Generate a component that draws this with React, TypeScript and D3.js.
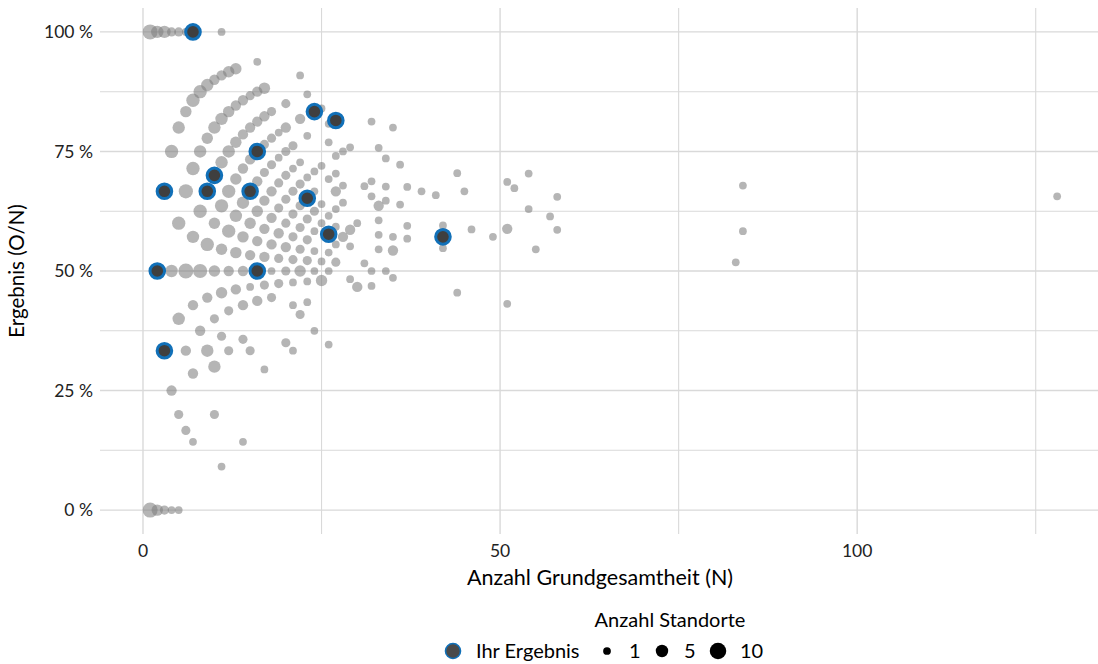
import React, { useEffect } from "react";
import * as d3 from "d3";

// x axis ticks (N) and y axis ticks (O/N)
const xTicks = [0, 50, 100];
const xMinorTicks = [25, 75, 125];
const yTicks = [0, 0.25, 0.5, 0.75, 1];
const yTickLabels = ["0 %", "25 %", "50 %", "75 %", "100 %"];
const yMinorTicks = [0.125, 0.375, 0.625, 0.875];
const legendSizes = [1, 5, 10];

// Standorte: [N (Grundgesamtheit), O (Ereignisse), Anzahl Standorte]
const sites: [number, number, number][] = [
  [1, 0, 8], [1, 1, 8],
  [2, 0, 4], [2, 1, 8], [2, 2, 5],
  [3, 0, 2], [3, 1, 3], [3, 2, 5], [3, 3, 5],
  [4, 0, 1], [4, 1, 3], [4, 2, 5], [4, 3, 6], [4, 4, 2],
  [5, 0, 1], [5, 1, 2], [5, 2, 5], [5, 3, 6], [5, 4, 5], [5, 5, 2],
  [6, 1, 2], [6, 2, 3], [6, 3, 8], [6, 4, 7], [6, 5, 4], [6, 6, 1],
  [7, 1, 1], [7, 2, 3], [7, 3, 3], [7, 4, 5], [7, 5, 6], [7, 6, 6], [7, 7, 2],
  [8, 3, 3], [8, 4, 7], [8, 5, 6], [8, 6, 5], [8, 7, 6],
  [9, 3, 5], [9, 4, 3], [9, 5, 6], [9, 6, 5], [9, 7, 4], [9, 8, 5],
  [10, 2, 2], [10, 3, 5], [10, 4, 2], [10, 5, 4], [10, 6, 4], [10, 7, 3], [10, 8, 5], [10, 9, 3],
  [11, 1, 1], [11, 4, 2], [11, 5, 4], [11, 6, 4], [11, 7, 6], [11, 8, 5], [11, 9, 5], [11, 10, 3], [11, 11, 1],
  [12, 4, 2], [12, 5, 2], [12, 6, 3], [12, 7, 6], [12, 8, 6], [12, 9, 5], [12, 10, 4], [12, 11, 4],
  [13, 6, 3], [13, 7, 4], [13, 8, 5], [13, 9, 4], [13, 10, 4], [13, 11, 3], [13, 12, 4],
  [14, 2, 1], [14, 5, 2], [14, 6, 3], [14, 7, 3], [14, 8, 4], [14, 9, 5], [14, 10, 3], [14, 11, 3], [14, 12, 3],
  [15, 5, 2], [15, 7, 1], [15, 8, 3], [15, 9, 4], [15, 10, 4], [15, 11, 3], [15, 12, 3], [15, 13, 2],
  [16, 7, 3], [16, 8, 3], [16, 9, 3], [16, 10, 4], [16, 11, 3], [16, 12, 3], [16, 13, 3], [16, 14, 3], [16, 15, 1],
  [17, 5, 1], [17, 8, 2], [17, 9, 3], [17, 10, 3], [17, 11, 3], [17, 12, 2], [17, 13, 2], [17, 14, 3], [17, 15, 4],
  [18, 8, 2], [18, 9, 1], [18, 10, 3], [18, 11, 3], [18, 12, 3], [18, 13, 2], [18, 14, 2], [18, 15, 2],
  [19, 9, 2], [19, 10, 2], [19, 11, 3], [19, 12, 2], [19, 13, 2], [19, 14, 1], [19, 15, 1],
  [20, 7, 2], [20, 10, 2], [20, 11, 3], [20, 12, 2], [20, 13, 2], [20, 14, 2], [20, 15, 2], [20, 16, 3], [20, 17, 2],
  [21, 7, 1], [21, 9, 1], [21, 10, 1], [21, 11, 2], [21, 12, 2], [21, 13, 2], [21, 14, 2], [21, 15, 1], [21, 16, 2],
  [22, 9, 2], [22, 11, 4], [22, 12, 2], [22, 13, 2], [22, 14, 2], [22, 15, 2], [22, 16, 1], [22, 18, 3], [22, 20, 1],
  [23, 10, 1], [23, 11, 1], [23, 12, 2], [23, 13, 2], [23, 14, 2], [23, 15, 2], [23, 16, 1], [23, 18, 1], [23, 20, 1],
  [24, 9, 1], [24, 12, 1], [24, 13, 1], [24, 14, 1], [24, 15, 2], [24, 16, 1], [24, 17, 1], [24, 20, 1],
  [25, 12, 4], [25, 13, 1], [25, 15, 1], [25, 16, 1], [25, 18, 1], [25, 21, 1],
  [26, 9, 1], [26, 13, 1], [26, 14, 1], [26, 15, 1], [26, 16, 1], [26, 18, 1], [26, 20, 1], [26, 21, 1],
  [27, 14, 2], [27, 15, 1], [27, 16, 1], [27, 17, 1], [27, 18, 3], [27, 19, 1], [27, 20, 1], [27, 22, 1],
  [28, 16, 3], [28, 18, 1], [28, 19, 1], [28, 21, 1],
  [29, 14, 1], [29, 16, 1], [29, 17, 3], [29, 22, 1],
  [30, 14, 3], [30, 18, 1],
  [31, 16, 1], [31, 21, 1],
  [32, 15, 1], [32, 16, 1], [32, 21, 1], [32, 22, 1], [32, 26, 1],
  [33, 18, 1], [33, 19, 1], [33, 20, 1], [33, 21, 3], [33, 25, 1],
  [34, 17, 1], [34, 22, 1], [34, 23, 1], [34, 25, 1],
  [35, 17, 1], [35, 19, 3], [35, 20, 1], [35, 28, 1],
  [36, 23, 1], [36, 26, 1],
  [37, 21, 1], [37, 22, 1], [37, 25, 1],
  [39, 26, 1], [41, 27, 1],
  [42, 23, 1], [42, 24, 1], [42, 25, 1],
  [44, 20, 1], [44, 31, 1], [45, 30, 1], [46, 27, 1], [49, 28, 1],
  [51, 22, 1], [51, 30, 3], [51, 35, 1], [52, 35, 1],
  [54, 34, 1], [54, 38, 1], [55, 30, 1], [57, 35, 1],
  [58, 34, 1], [58, 38, 1],
  [83, 43, 1], [84, 49, 1], [84, 57, 1],
  [128, 84, 1],
];

// Ihr Ergebnis: [N, O]
const ownResults: [number, number][] = [
  [2, 1], [3, 1], [3, 2], [7, 7], [9, 6], [10, 7], [15, 10], [16, 8],
  [16, 12], [23, 15], [24, 20], [26, 15], [27, 22], [42, 24],
];

const W = 1098;
const H = 664;
const panel = { left: 100, right: 1100, top: 8, bottom: 534 };
const FONT = "Lato, 'Open Sans', sans-serif";

export default function App() {
  useEffect(() => {
    document.body.style.margin = "0";
  }, []);

  const x = d3.scaleLinear().domain([-6.02, 134.0]).range([panel.left, panel.right]);
  const y = d3.scaleLinear().domain([-0.05, 1.05]).range([panel.bottom, panel.top]);
  const area = d3.scaleLinear().domain([1, 10]).range([15, 68]);
  const r = (c: number) => Math.sqrt(area(c));

  const gridColor = "#d9d9d9";
  const sorted = [...sites].sort((a, b) => b[2] - a[2]);

  return (
    <svg width={W} height={H} style={{ display: "block", position: "absolute", left: 0, top: 0 }} fontFamily={FONT}>
      <rect x={0} y={0} width={W} height={H} fill="#ffffff" />
      {/* grid */}
      {yMinorTicks.map((t) => (
        <line key={"ym" + t} x1={panel.left} x2={panel.right} y1={y(t)} y2={y(t)} stroke={gridColor} strokeWidth={1.1} />
      ))}
      {yTicks.map((t) => (
        <line key={"y" + t} x1={panel.left} x2={panel.right} y1={y(t)} y2={y(t)} stroke={gridColor} strokeWidth={1.4} />
      ))}
      {xMinorTicks.map((t) => (
        <line key={"xm" + t} x1={x(t)} x2={x(t)} y1={panel.top} y2={panel.bottom} stroke={gridColor} strokeWidth={1.1} />
      ))}
      {xTicks.map((t) => (
        <line key={"x" + t} x1={x(t)} x2={x(t)} y1={panel.top} y2={panel.bottom} stroke={gridColor} strokeWidth={1.4} />
      ))}

      {/* gray points */}
      {sorted.map(([n, o, c], i) => (
        <circle key={"p" + i} cx={x(n)} cy={y(o / n)} r={r(c)} fill="#7f7f7f" fillOpacity={0.58} />
      ))}

      {/* own results */}
      {ownResults.map(([n, o], i) => (
        <circle key={"h" + i} cx={x(n)} cy={y(o / n)} r={7.3} fill="#3f3f3f" stroke="#1170b8" strokeWidth={3} />
      ))}

      {/* y tick labels */}
      {yTicks.map((t, i) => (
        <text key={"yl" + t} x={93} y={y(t)} dy="0.35em" textAnchor="end" fontSize={17.5} fill="#222">
          {yTickLabels[i]}
        </text>
      ))}
      {/* x tick labels */}
      {xTicks.map((t) => (
        <text key={"xl" + t} x={x(t)} y={557} textAnchor="middle" fontSize={17.5} fill="#222">
          {t}
        </text>
      ))}

      {/* axis titles */}
      <text x={(panel.left + panel.right) / 2} y={585} textAnchor="middle" fontSize={21.5} fill="#000">
        Anzahl Grundgesamtheit (N)
      </text>
      <text transform={`translate(24, ${y(0.5)}) rotate(-90)`} textAnchor="middle" fontSize={20.5} fill="#000">
        Ergebnis (O/N)
      </text>

      {/* legend */}
      <text x={670} y={627} textAnchor="middle" fontSize={20} fill="#000">
        Anzahl Standorte
      </text>
      <circle cx={453} cy={651} r={7.5} fill="#4a4a4a" stroke="#1170b8" strokeWidth={1.6} />
      <text x={476} y={658} fontSize={20} fill="#000">Ihr Ergebnis</text>
      {legendSizes.map((s, i) => {
        const cx = [607, 662, 718][i];
        return (
          <g key={"ls" + s}>
            <circle cx={cx} cy={651} r={r(s)} fill="#000" />
            <text x={cx + 22} y={658} fontSize={20} fill="#000">{s}</text>
          </g>
        );
      })}
    </svg>
  );
}
